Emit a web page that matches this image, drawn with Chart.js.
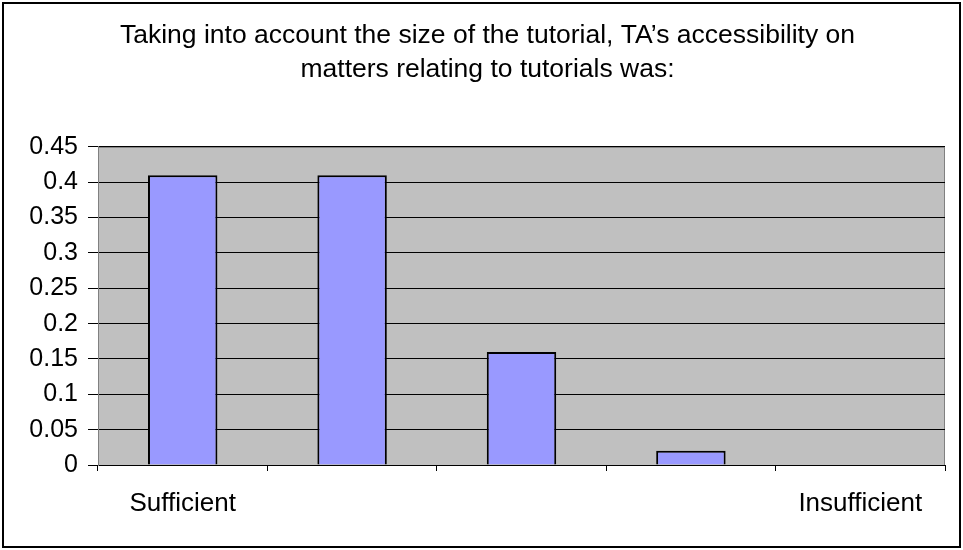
<!DOCTYPE html>
<html>
<head>
<meta charset="utf-8">
<script src="https://cdn.jsdelivr.net/npm/chart.js@4/dist/chart.umd.min.js"></script>
<style>
  html, body { margin: 0; padding: 0; background: #fff; }
  #wrap { width: 963px; height: 550px; }
</style>
</head>
<body>
<div id="wrap"><canvas id="myChart" width="963" height="550"></canvas></div>
<script>
const categories = ["Sufficient", "", "", "", "Insufficient"];
const shares = [0.41, 0.41, 0.16, 0.02, 0];
const yTickLabels = ["0", "0.05", "0.1", "0.15", "0.2", "0.25", "0.3", "0.35", "0.4", "0.45"];
const titleLines = [
  "Taking into account the size of the tutorial, TA\u2019s accessibility on",
  "matters relating to tutorials was:"
];

const FONT = "'Liberation Sans', Arial, sans-serif";

// grey plot area + outer frame, like the old Excel chart
const plotBg = {
  id: "plotBg",
  beforeDraw(chart) {
    const { ctx, chartArea: a } = chart;
    ctx.save();
    ctx.fillStyle = "#c0c0c0";
    ctx.fillRect(a.left, a.top, a.right - a.left, a.bottom - a.top);
    ctx.strokeStyle = "#808080";
    ctx.lineWidth = 1;
    ctx.strokeRect(a.left + 0.5, a.top + 0.5, a.right - a.left - 1, a.bottom - a.top);
    ctx.strokeStyle = "#000";
    ctx.lineWidth = 2;
    ctx.strokeRect(3, 3, 957, 544);
    ctx.restore();
  }
};

const ctx = document.getElementById("myChart").getContext("2d");
const myChart = new Chart(ctx, {
  type: "bar",
  data: {
    labels: categories,
    datasets: [
      {
        data: shares,
        backgroundColor: "#9999ff",
        borderColor: "#000",
        borderWidth: 2,
        categoryPercentage: 1,
        barPercentage: 0.41,
      },
    ],
  },
  options: {
    responsive: false,
    animation: false,
    layout: { padding: { left: 30, right: 18, top: 0, bottom: 0 } },
    plugins: {
      legend: { display: false },
      tooltip: { enabled: false },
      title: {
        display: true,
        text: titleLines,
        color: "#000",
        font: { family: FONT, size: 26.5, weight: "normal", lineHeight: 1.3 },
        padding: { top: 18, bottom: 60 },
      },
    },
    scales: {
      x: {
        afterFit(s) { s.height = 85; },
        grid: {
          offset: true,
          drawOnChartArea: false,
          color: "#000",
          tickLength: 6,
        },
        border: { color: "#000", width: 1 },
        ticks: {
          color: "#000",
          padding: 17,
          maxRotation: 0,
          autoSkip: false,
          font: { family: FONT, size: 26 },
        },
      },
      y: {
        min: 0,
        max: 0.45,
        afterFit(s) { s.width = 98 - 30; },
        ticks: {
          stepSize: 0.05,
          color: "#000",
          padding: 10,
          font: { family: FONT, size: 25 },
          callback: (v, i) => yTickLabels[i],
        },
        grid: { color: "#000", tickLength: 10 },
        border: { color: "#808080", width: 1 },
      },
    },
  },
  plugins: [plotBg],
});
</script>
</body>
</html>
